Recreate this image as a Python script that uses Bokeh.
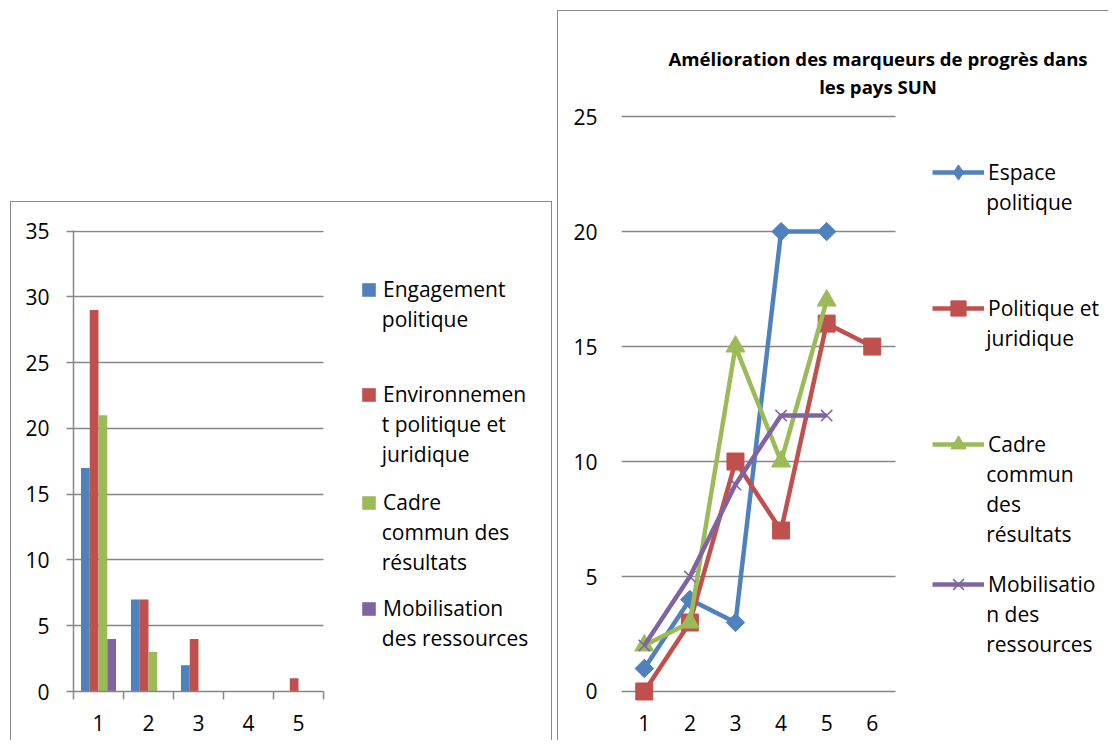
import numpy as np
from bokeh.plotting import figure
from bokeh.models import Legend, LegendItem, FixedTicker, Label, Range1d, Spacer, Grid
from bokeh.layouts import row, column
from bokeh.embed import file_html
from bokeh.resources import INLINE

# ---------------- data ----------------
bar_categories = [1, 2, 3, 4, 5]
engagement_politique = [17, 7, 2, 0, 0]
environnement_politique_juridique = [29, 7, 4, 0, 1]
cadre_commun_resultats = [21, 3, 0, 0, 0]
mobilisation_ressources = [4, 0, 0, 0, 0]
bar_labels = [["Engagement", "politique"],
              ["Environnemen", "t politique et", "juridique"],
              ["Cadre", "commun des", "résultats"],
              ["Mobilisation", "des ressources"]]
bar_y_ticks = [0, 5, 10, 15, 20, 25, 30, 35]

line_x = [1, 2, 3, 4, 5, 6]
espace_politique = [1, 4, 3, 20, 20]
politique_juridique = [0, 3, 10, 7, 16, 15]
cadre_commun = [2, 3, 15, 10, 17]
mobilisation = [2, 5, 9, 12, 12]
line_labels = [["Espace", "politique"],
               ["Politique et", "juridique"],
               ["Cadre", "commun", "des", "résultats"],
               ["Mobilisatio", "n des", "ressources"]]
line_y_ticks = [0, 5, 10, 15, 20, 25]
line_title = ["Amélioration des marqueurs de progrès dans", "les pays SUN"]

# ---------------- style ----------------
FONT = "Open Sans"
FS = "21px"
LINE_GAP = 30
GRID = "#868686"
BOX = "1px solid #8a8a8a"
COLORS = ["#4F81BD", "#C0504D", "#9BBB59", "#8064A2"]
HAS_CB = "cross_bounds" in Grid.properties()


def legend_block(p, renderers, lines, glyph_w, glyph_h, standoff,
                 gx_px, fy, frame_left, frame_bottom, zero_px, px_x, px_y):
    """legend entry (glyph + first line) plus continuation lines as labels"""
    item_h = max(glyph_h, 28)
    leg = Legend(items=[LegendItem(label=lines[0], renderers=renderers)],
                 location=(gx_px - frame_left, frame_bottom - (fy + item_h / 2)),
                 padding=0, margin=0, spacing=0,
                 border_line_color=None, background_fill_alpha=0,
                 glyph_width=glyph_w, glyph_height=glyph_h, label_standoff=standoff,
                 label_text_font=FONT, label_text_font_size=FS,
                 label_text_color="#000000")
    p.add_layout(leg)
    tx = 0.5 + (gx_px + glyph_w + standoff - 3 - frame_left) / px_x
    for k, txt in enumerate(lines[1:], start=1):
        p.add_layout(Label(x=tx, y=(zero_px - (fy + k * LINE_GAP)) / px_y, text=txt,
                           text_align="left", text_baseline="middle",
                           text_font=FONT, text_font_size=FS, text_color="#000000"))


# ================= left: bar chart =================
L_PX = 249 / 5.0
L_FW = 478
L_PY = 460 / 35.05
L_FRAME_LEFT, L_FRAME_BOTTOM = 73, 690
left = figure(frame_width=L_FW, frame_height=460,
              x_range=Range1d(0.5, 0.5 + L_FW / L_PX), y_range=Range1d(0, 35.05),
              min_border_left=62, min_border_right=0,
              min_border_top=28, min_border_bottom=50,
              output_backend="svg", toolbar_location=None, title=None)
left.outline_line_color = None
left.styles = {"border-left": BOX, "border-top": BOX, "border-right": BOX}

offsets = [-0.2625, -0.0875, 0.0875, 0.2625]
bar_series = [engagement_politique, environnement_politique_juridique,
              cadre_commun_resultats, mobilisation_ressources]
bar_renderers = []
for vals, off, col in zip(bar_series, offsets, COLORS):
    xs = [c + off for c in bar_categories]
    r = left.vbar(x=xs, top=vals, width=0.175, bottom=0,
                  fill_color=col, line_color=None)
    bar_renderers.append(r)

x_lo, x_hi = bar_categories[0] - 0.5, bar_categories[-1] + 0.5
xa = left.xaxis[0]
xa.bounds = (x_lo, x_hi)
xa.ticker = FixedTicker(ticks=bar_categories,
                        minor_ticks=[c - 0.5 for c in bar_categories] + [x_hi])
xa.major_tick_line_color = None
xa.minor_tick_out = 8
xa.minor_tick_in = 0
xa.minor_tick_line_color = GRID
xa.minor_tick_line_width = 1.5
xa.major_label_standoff = 15
xa.axis_line_color = GRID
xa.axis_line_width = 1.5

ya = left.yaxis[0]
ya.ticker = FixedTicker(ticks=bar_y_ticks)
ya.major_tick_out = 7
ya.major_tick_in = 0
ya.major_tick_line_color = GRID
ya.major_tick_line_width = 1.5
ya.minor_tick_line_color = None
ya.major_label_standoff = 17
ya.axis_line_color = GRID
ya.axis_line_width = 1.5

for ax in (xa, ya):
    ax.major_label_text_font = FONT
    ax.major_label_text_font_size = FS
    ax.major_label_text_color = "#000000"

left.xgrid.visible = False
lg = left.ygrid[0]
lg.ticker = FixedTicker(ticks=bar_y_ticks)
lg.grid_line_color = GRID
lg.grid_line_width = 1.5
if HAS_CB:
    lg.cross_bounds = (x_lo, x_hi)

left_leg_first = [288, 393, 501, 607]
for r, lines, fy in zip(bar_renderers, bar_labels, left_leg_first):
    legend_block(left, [r], lines, 17, 17, 6, 360, fy,
                 L_FRAME_LEFT, L_FRAME_BOTTOM, L_FRAME_BOTTOM, L_PX, L_PY)

# ================= right: line chart =================
R_PX = 273 / 6.0
R_PY = 574 / 25.0
R_FRAME_LEFT, R_FRAME_TOP, R_FRAME_BOTTOM = 622, 20, 702
R_ZERO = 690
R_FW = 487
y_lo = -(R_FRAME_BOTTOM - R_ZERO) / R_PY
y_hi = (R_ZERO - R_FRAME_TOP) / R_PY
right = figure(frame_width=R_FW, frame_height=R_FRAME_BOTTOM - R_FRAME_TOP,
               x_range=Range1d(0.5, 0.5 + R_FW / R_PX), y_range=Range1d(y_lo, y_hi),
               min_border_left=63, min_border_right=0,
               min_border_top=9, min_border_bottom=38,
               output_backend="svg", toolbar_location=None, title=None)
right.outline_line_color = None
right.styles = {"border-left": BOX, "border-top": BOX}

line_series = [espace_politique, politique_juridique, cadre_commun, mobilisation]
markers = [dict(marker="square", angle=np.pi / 4, size=13),
           dict(marker="square", size=17),
           dict(marker="triangle", size=19),
           dict(marker="x", size=16, line_width=1.5)]
legend_markers = ["diamond", None, None, None]
line_renderers = []
for vals, col, mk, lm in zip(line_series, COLORS, markers, legend_markers):
    xs = line_x[:len(vals)]
    lr = right.line(xs, vals, line_width=4.5, line_color=col)
    mr = right.scatter(xs, vals, fill_color=col, line_color=col, **mk)
    if lm is not None:
        # zero-size copy used only for the key (Excel shows a narrow diamond there)
        mr_leg = right.scatter(xs, vals, marker=lm, size=0, fill_color=col, line_color=col)
        line_renderers.append([lr, mr_leg])
    else:
        line_renderers.append([lr, mr])

rx = right.xaxis[0]
rx.ticker = FixedTicker(ticks=line_x)
rx.major_tick_line_color = None
rx.minor_tick_line_color = None
rx.axis_line_color = None
rx.major_label_standoff = 5

ry = right.yaxis[0]
ry.ticker = FixedTicker(ticks=line_y_ticks)
ry.major_tick_line_color = None
ry.minor_tick_line_color = None
ry.axis_line_color = None
ry.major_label_standoff = 18

for ax in (rx, ry):
    ax.major_label_text_font = FONT
    ax.major_label_text_font_size = FS
    ax.major_label_text_color = "#000000"

right.xgrid.visible = False
rg = right.ygrid[0]
rg.ticker = FixedTicker(ticks=line_y_ticks)
rg.grid_line_color = GRID
rg.grid_line_width = 1.5
if HAS_CB:
    rg.cross_bounds = (line_x[0] - 0.5, line_x[-1] + 0.5)

right_leg_first = [171, 307, 443, 583]
for rs, lines, fy in zip(line_renderers, line_labels, right_leg_first):
    legend_block(right, rs, lines, 52, 38, 4, 933, fy,
                 R_FRAME_LEFT, R_FRAME_BOTTOM, R_ZERO, R_PX, R_PY)

title_cx = 0.5 + (878 - R_FRAME_LEFT) / R_PX
for txt, py in zip(line_title, [58, 86]):
    right.add_layout(Label(x=title_cx, y=(R_ZERO - py) / R_PY, text=txt,
                           text_align="center", text_baseline="middle",
                           text_font=FONT, text_font_size="18.6px",
                           text_font_style="bold", text_color="#000000"))

layout = row(Spacer(width=10),
             column(Spacer(height=201), left),
             Spacer(width=5),
             column(Spacer(height=10), right))

open("out.html", "w").write(file_html(layout, INLINE))
